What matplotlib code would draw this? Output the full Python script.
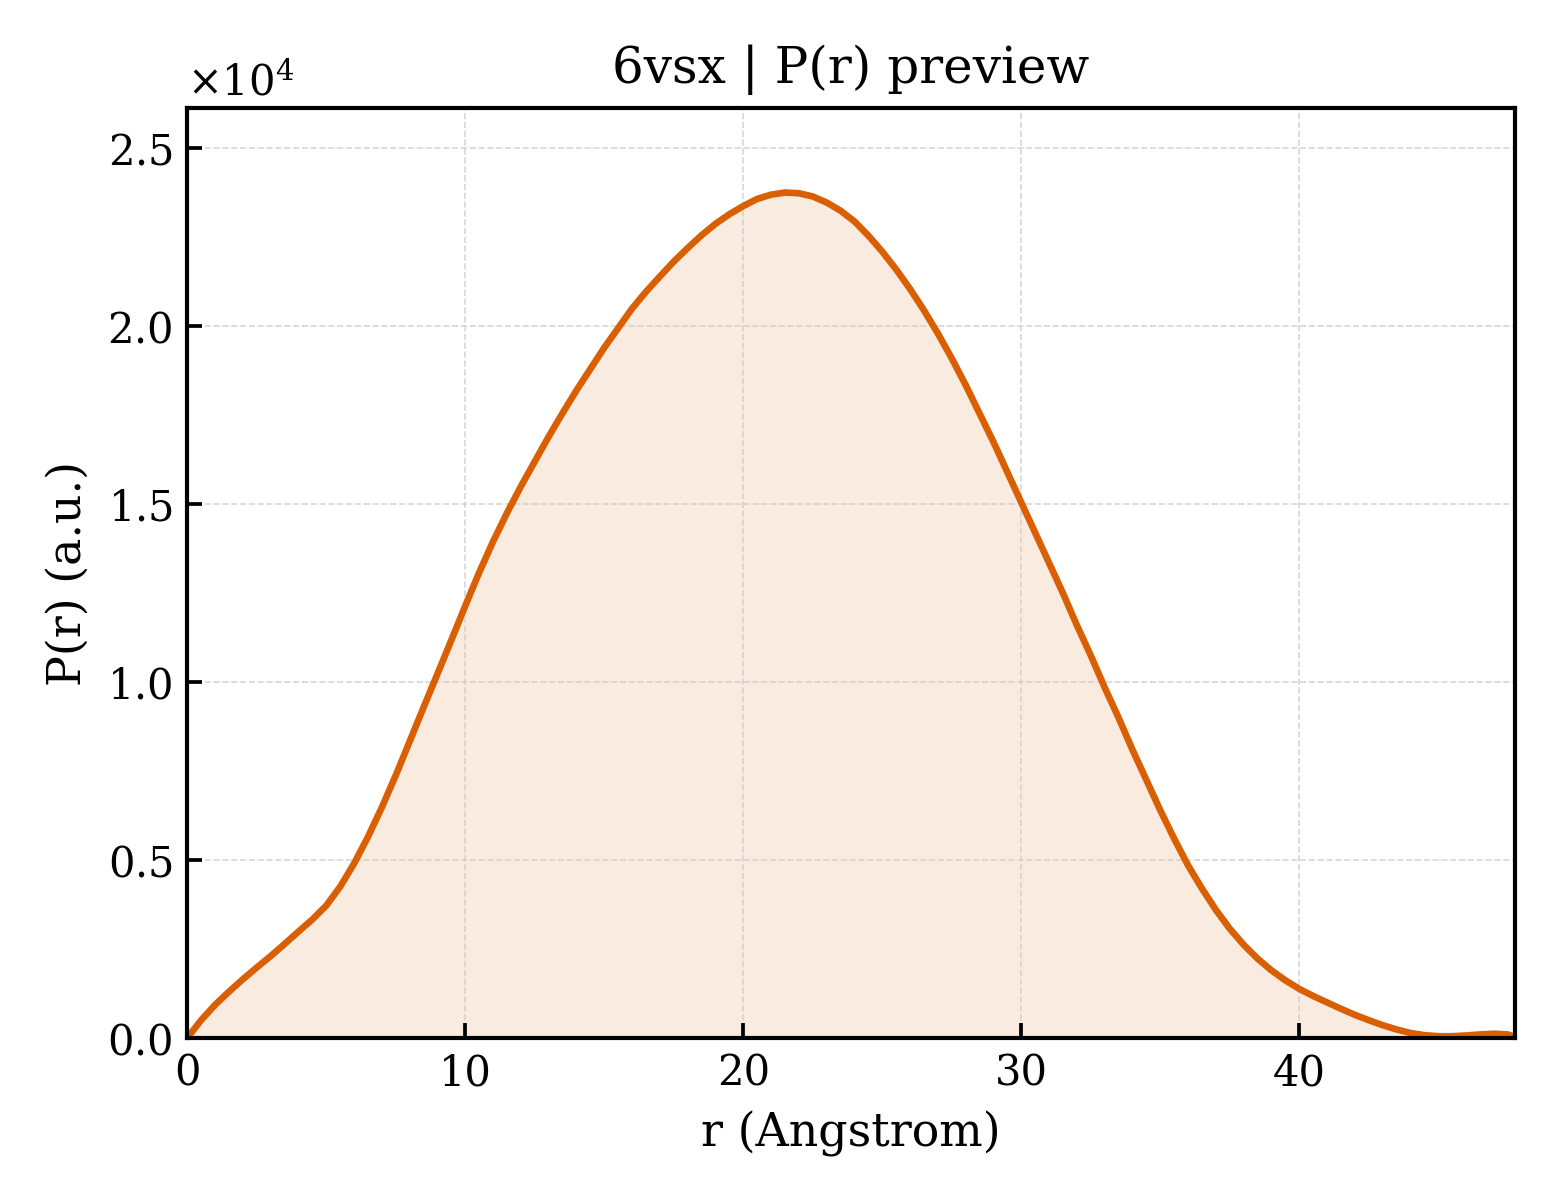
import numpy as np
import matplotlib
matplotlib.use("Agg")
import matplotlib.pyplot as plt
from matplotlib.ticker import ScalarFormatter

plt.rcParams['font.family'] = 'DejaVu Serif'
plt.rcParams['mathtext.fontset'] = 'dejavuserif'

# P(r) values (r in Angstrom)
r = [0, 0.5, 1, 1.5, 2, 2.5, 3, 3.5, 4, 4.5, 5, 5.5, 6, 6.5, 7, 7.5, 8, 8.5,
     9, 9.5, 10, 10.5, 11, 11.5, 12, 12.5, 13, 13.5, 14, 14.5, 15, 15.5, 16,
     16.5, 17, 17.5, 18, 18.5, 19, 19.5, 20, 20.5, 21, 21.5, 22, 22.5, 23,
     23.5, 24, 24.5, 25, 25.5, 26, 26.5, 27, 27.5, 28, 28.5, 29, 29.5, 30,
     30.5, 31, 31.5, 32, 32.5, 33, 33.5, 34, 34.5, 35, 35.5, 36, 36.5, 37,
     37.5, 38, 38.5, 39, 39.5, 40, 40.5, 41, 41.5, 42, 42.5, 43, 43.5, 44,
     44.5, 45, 45.5, 46, 46.5, 47, 47.5, 47.75]
pr = [0, 500, 930, 1300, 1650, 1980, 2300, 2640, 2990, 3330, 3720, 4250,
      4900, 5650, 6480, 7380, 8330, 9290, 10230, 11180, 12140, 13080, 13950,
      14750, 15500, 16200, 16900, 17560, 18200, 18800, 19400, 19950, 20500,
      20970, 21400, 21820, 22200, 22560, 22880, 23150, 23380, 23580, 23700,
      23760, 23740, 23650, 23480, 23250, 22950, 22550, 22100, 21600, 21050,
      20450, 19800, 19100, 18350, 17550, 16750, 15900, 15050, 14200, 13350,
      12500, 11600, 10750, 9850, 9000, 8100, 7250, 6400, 5600, 4850, 4200,
      3600, 3070, 2620, 2230, 1900, 1620, 1380, 1180, 1000, 820, 650, 500,
      360, 240, 140, 80, 50, 50, 70, 100, 120, 100, 30]

title = "6vsx | P(r) preview"
color = "#d95f02"

fig = plt.figure(figsize=(5.2, 4), dpi=300)
ax = fig.add_axes([0.12, 0.135, 0.851, 0.775])

ax.fill_between(r, pr, 0, color=color, alpha=0.12, linewidth=0)
ax.plot(r, pr, color=color, lw=1.6)

ax.set_xlim(0, r[-1])
ax.set_ylim(0, max(pr) * 1.1)
ax.set_xticks([0, 10, 20, 30, 40])

fmt = ScalarFormatter(useMathText=True)
fmt.set_powerlimits((0, 0))
ax.yaxis.set_major_formatter(fmt)

ax.tick_params(direction='in', labelsize=10, width=0.9, length=3.5)
for s in ax.spines.values():
    s.set_linewidth(1.0)
ax.grid(True, ls='--', lw=0.4, color='#cccccc', alpha=0.8)

ax.set_xlabel("r (Angstrom)", fontsize=11)
ax.set_ylabel("P(r) (a.u.)", fontsize=11)
ax.set_title(title, fontsize=12)

fig.savefig("out.png", dpi=300)
